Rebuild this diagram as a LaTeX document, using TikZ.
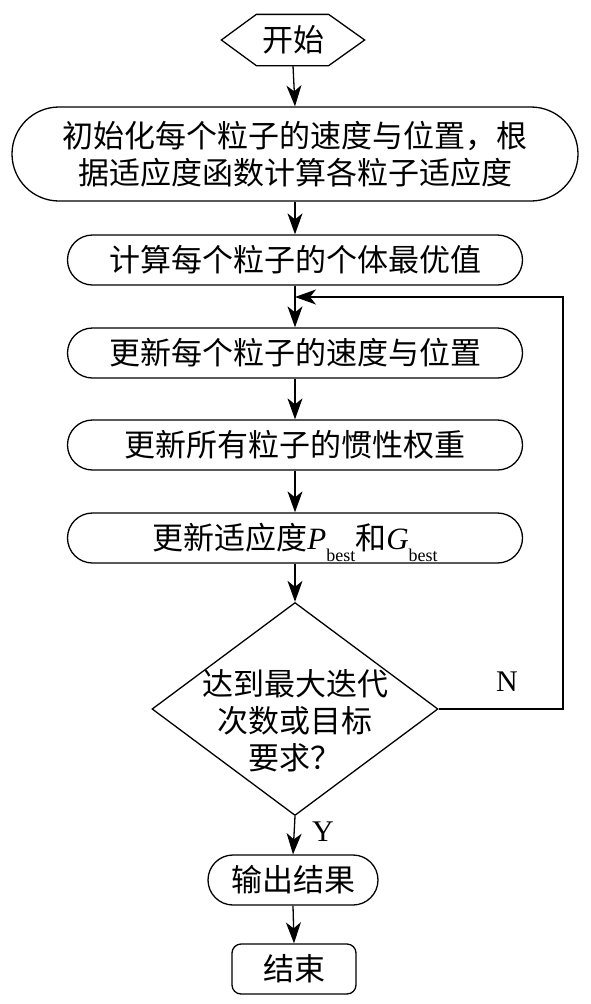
\documentclass[tikz,border=0pt]{standalone}
\usepackage{fontspec}
\setmainfont{Liberation Serif}
\newfontfamily\cjk{Noto Sans CJK SC}
\usetikzlibrary{shapes.geometric,shapes.misc,arrows.meta}
\begin{document}
\begin{tikzpicture}[x=1pt,y=-1pt,
  every node/.style={font=\cjk\fontsize{31}{37}\selectfont, inner sep=0pt, line width=1.3pt},
  stadium/.style={draw, rounded rectangle, minimum height=50pt, minimum width=455pt},
  flow/.style={-{Stealth[length=21pt,width=15pt,inset=6pt]}, line width=1.3pt},
  plain/.style={line width=1.3pt},
  lat/.style={font=\rmfamily\fontsize{30}{32}\selectfont}
]
\useasboundingbox (0,0) rectangle (591,1004);
\newcommand{\bsub}{\raisebox{-12pt}[0pt][0pt]{\fontsize{18}{18}\selectfont best}}

% start hexagon
\node (start) at (293,40) [minimum width=142pt, minimum height=50pt] {开始};
\draw[plain] (start.west) -- ([xshift=35pt]start.north west) -- ([xshift=-36pt]start.north east)
  -- (start.east) -- ([xshift=-36pt]start.south east) -- ([xshift=35pt]start.south west) -- cycle;

\node[draw, rounded rectangle, minimum width=566pt, minimum height=94pt, align=center] (init) at (295,154)
  {初始化每个粒子的速度与位置，根\\据适应度函数计算各粒子适应度};
\node[stadium] (pbest) at (295,260) {计算每个粒子的个体最优值};
\coordinate (join) at (295,297);
\coordinate (rt) at (563,297);
\node[stadium] (upd) at (295,353) {更新每个粒子的速度与位置};
\node[stadium] (inert) at (295,445) {更新所有粒子的惯性权重};
\node[stadium] (fit) at (295,538) {更新适应度{\rmfamily\itshape P}{\rmfamily\bsub}和{\rmfamily\itshape G}{\rmfamily\bsub}};
\node[draw, diamond, minimum width=286pt, minimum height=213pt] (dec) at (295,709) {};
\node[align=center] (dectext) at (295,721) {达到最大迭代\\次数或目标\\要求？};
\node[draw, rounded rectangle, minimum width=170pt, minimum height=50pt] (out) at (293,880) {输出结果};
\node[draw, rectangle, rounded corners=9pt, minimum width=124pt, minimum height=50pt] (stop) at (294,969) {结束};

\node[lat] (nlab) at (507,682) {N};
\node[lat] (ylab) at (323,832) {Y};

\draw[flow] (start.south) -- (init.north);
\draw[flow] (init.south) -- (pbest.north);
\draw[flow] (pbest.south) -- (upd.north);
\draw[flow] (upd.south) -- (inert.north);
\draw[flow] (inert.south) -- (fit.north);
\draw[flow] (fit.south) -- (dec.north);
\draw[flow] (dec.south) -- (out.north);
\draw[flow] (out.south) -- (stop.north);
\draw[flow] (dec.east) -| (rt) -- (join);
\end{tikzpicture}
\end{document}
